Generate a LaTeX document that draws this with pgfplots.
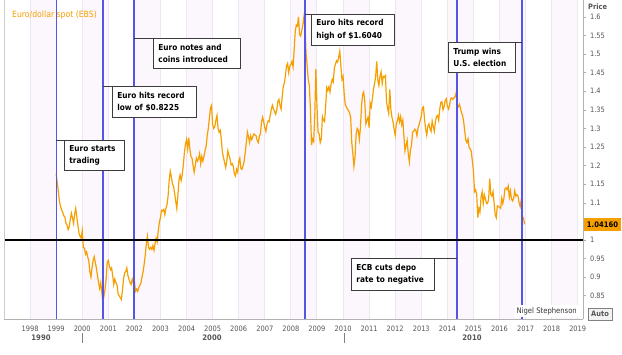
\documentclass[border=0pt]{standalone}
\usepackage{pgfplots}
\pgfplotsset{compat=1.18}
\usepackage{fontspec}
\setmainfont{DejaVu Sans Condensed}
\definecolor{eur}{RGB}{245,160,0}
\definecolor{evt}{RGB}{85,85,230}
\definecolor{band}{RGB}{252,247,252}
\definecolor{gridc}{RGB}{238,230,243}
\definecolor{tickc}{RGB}{85,85,85}
\definecolor{boxc}{RGB}{60,60,60}
\begin{document}
\begin{tikzpicture}
\useasboundingbox (0pt,0pt) rectangle (622pt,-354pt);
\fill[white] (0pt,0pt) rectangle (622pt,-354pt);
\begin{axis}[at={(4pt,-319pt)}, anchor=south west, scale only axis,
  width=579pt, height=319pt,
  xmin=1997, xmax=2019.2, ymin=0.7876, ymax=1.6452,
  axis x line*=bottom, axis y line*=right,
  axis line style={draw=gray!60, line width=0.6pt},
  xtick={1998,1999,...,2019},
  ytick={0.85,0.9,0.95,1,1.05,1.1,1.15,1.2,1.25,1.3,1.35,1.4,1.45,1.5,1.55,1.6},
  yticklabels={0.85,0.9,0.95,1,,1.1,1.15,1.2,1.25,1.3,1.35,1.4,1.45,1.5,1.55,1.6},
  x tick label style={/pgf/number format/1000 sep={}, /pgf/number format/assume math mode=true},
  y tick label style={anchor=west},
  tick label style={font=\fontsize{7.4}{8}\selectfont, text=tickc},
  xtick style={draw=none},
  ytick style={draw=gray!60, line width=0.6pt},
  tick align=outside, major tick length=3.5pt,
]
% year bands
\fill[band] (axis cs:1998,0.7876) rectangle (axis cs:1999,1.6452);
\fill[band] (axis cs:2000,0.7876) rectangle (axis cs:2001,1.6452);
\fill[band] (axis cs:2002,0.7876) rectangle (axis cs:2003,1.6452);
\fill[band] (axis cs:2004,0.7876) rectangle (axis cs:2005,1.6452);
\fill[band] (axis cs:2006,0.7876) rectangle (axis cs:2007,1.6452);
\fill[band] (axis cs:2008,0.7876) rectangle (axis cs:2009,1.6452);
\fill[band] (axis cs:2010,0.7876) rectangle (axis cs:2011,1.6452);
\fill[band] (axis cs:2012,0.7876) rectangle (axis cs:2013,1.6452);
\fill[band] (axis cs:2014,0.7876) rectangle (axis cs:2015,1.6452);
\fill[band] (axis cs:2016,0.7876) rectangle (axis cs:2017,1.6452);
\fill[band] (axis cs:2018,0.7876) rectangle (axis cs:2019,1.6452);
\pgfplotsinvokeforeach{1998,1999,...,2019}{
  \draw[gridc, line width=1pt] (axis cs:#1,0.7876) -- (axis cs:#1,1.6452);
}
% EUR/USD, half-monthly from Jan 1999
\addplot[eur, line width=1.2pt] table[row sep=\\, header=false, x expr=1999+\coordindex/24, y index=0] {
1.178\\1.155\\1.130\\1.105\\1.090\\1.082\\1.075\\1.065\\1.062\\1.045\\1.040\\1.028\\1.035\\1.055\\1.072\\1.060\\1.045\\1.070\\1.085\\1.062\\1.040\\1.018\\1.010\\1.005\\
1.025\\0.980\\0.978\\0.962\\0.968\\0.955\\0.945\\0.915\\0.900\\0.925\\0.945\\0.955\\0.940\\0.925\\0.905\\0.885\\0.870\\0.885\\0.860\\0.832\\0.850\\0.868\\0.895\\0.940\\
0.945\\0.930\\0.920\\0.925\\0.905\\0.880\\0.895\\0.885\\0.880\\0.855\\0.850\\0.845\\0.840\\0.865\\0.895\\0.912\\0.915\\0.925\\0.905\\0.895\\0.885\\0.880\\0.895\\0.885\\
0.890\\0.862\\0.868\\0.862\\0.872\\0.878\\0.885\\0.900\\0.915\\0.935\\0.960\\0.990\\1.010\\0.980\\0.975\\0.980\\0.975\\0.985\\0.972\\0.990\\1.005\\0.995\\1.025\\1.048\\
1.060\\1.080\\1.078\\1.082\\1.068\\1.085\\1.095\\1.118\\1.160\\1.185\\1.170\\1.150\\1.145\\1.125\\1.105\\1.085\\1.120\\1.160\\1.175\\1.160\\1.175\\1.200\\1.235\\1.258\\
1.270\\1.245\\1.275\\1.245\\1.225\\1.220\\1.200\\1.182\\1.200\\1.220\\1.212\\1.218\\1.232\\1.205\\1.225\\1.212\\1.225\\1.240\\1.252\\1.280\\1.300\\1.328\\1.355\\1.362\\
1.310\\1.300\\1.305\\1.322\\1.335\\1.300\\1.290\\1.295\\1.270\\1.235\\1.222\\1.208\\1.195\\1.212\\1.240\\1.228\\1.218\\1.202\\1.205\\1.198\\1.178\\1.172\\1.190\\1.182\\
1.210\\1.220\\1.192\\1.190\\1.200\\1.212\\1.235\\1.262\\1.290\\1.278\\1.262\\1.280\\1.270\\1.278\\1.285\\1.282\\1.280\\1.268\\1.262\\1.280\\1.285\\1.318\\1.330\\1.318\\
1.302\\1.292\\1.310\\1.320\\1.318\\1.335\\1.352\\1.362\\1.352\\1.345\\1.338\\1.350\\1.372\\1.378\\1.362\\1.352\\1.385\\1.412\\1.422\\1.442\\1.468\\1.475\\1.450\\1.468\\
1.472\\1.480\\1.465\\1.510\\1.560\\1.578\\1.575\\1.600\\1.552\\1.548\\1.562\\1.578\\1.600\\1.570\\1.500\\1.468\\1.430\\1.415\\1.350\\1.255\\1.272\\1.265\\1.335\\1.460\\
1.360\\1.290\\1.285\\1.262\\1.272\\1.332\\1.322\\1.318\\1.360\\1.410\\1.402\\1.412\\1.398\\1.420\\1.432\\1.425\\1.462\\1.472\\1.482\\1.478\\1.492\\1.508\\1.468\\1.432\\
1.440\\1.395\\1.365\\1.358\\1.352\\1.348\\1.342\\1.330\\1.262\\1.232\\1.198\\1.222\\1.282\\1.300\\1.295\\1.270\\1.302\\1.360\\1.392\\1.398\\1.372\\1.312\\1.322\\1.330\\
1.302\\1.368\\1.358\\1.380\\1.405\\1.420\\1.440\\1.480\\1.430\\1.415\\1.440\\1.452\\1.420\\1.440\\1.438\\1.442\\1.372\\1.355\\1.340\\1.405\\1.352\\1.330\\1.318\\1.298\\
1.282\\1.312\\1.320\\1.335\\1.318\\1.332\\1.310\\1.322\\1.280\\1.240\\1.255\\1.268\\1.232\\1.210\\1.242\\1.255\\1.290\\1.292\\1.298\\1.295\\1.280\\1.300\\1.310\\1.322\\
1.332\\1.355\\1.358\\1.325\\1.298\\1.282\\1.305\\1.312\\1.300\\1.292\\1.320\\1.305\\1.292\\1.318\\1.332\\1.335\\1.322\\1.352\\1.370\\1.372\\1.350\\1.358\\1.375\\1.380\\
1.360\\1.352\\1.362\\1.380\\1.382\\1.378\\1.382\\1.385\\1.395\\1.362\\1.358\\1.365\\1.355\\1.342\\1.335\\1.318\\1.292\\1.268\\1.262\\1.272\\1.248\\1.245\\1.238\\1.212\\
1.185\\1.130\\1.135\\1.122\\1.060\\1.085\\1.075\\1.115\\1.130\\1.098\\1.122\\1.110\\1.098\\1.098\\1.112\\1.165\\1.122\\1.118\\1.130\\1.100\\1.068\\1.060\\1.092\\1.090\\
1.088\\1.085\\1.112\\1.098\\1.112\\1.138\\1.140\\1.135\\1.145\\1.115\\1.132\\1.110\\1.105\\1.112\\1.132\\1.118\\1.122\\1.118\\1.100\\1.090\\1.108\\1.062\\1.060\\1.042\\
};
% event lines
\addplot[evt, line width=1.3pt] coordinates {(1999.01,0.7876) (1999.01,1.6452)};
\addplot[evt, line width=1.3pt] coordinates {(2000.80,0.7876) (2000.80,1.6452)};
\addplot[evt, line width=1.3pt] coordinates {(2001.99,0.7876) (2001.99,1.6452)};
\addplot[evt, line width=1.3pt] coordinates {(2008.54,0.7876) (2008.54,1.6452)};
\addplot[evt, line width=1.3pt] coordinates {(2014.37,0.7876) (2014.37,1.6452)};
\addplot[evt, line width=1.3pt] coordinates {(2016.86,0.7876) (2016.86,1.6452)};
% parity line
\addplot[black, line width=1.4pt] coordinates {(1997,1) (2019.2,1)};
\end{axis}
\begin{scope}[x=1pt,y=1pt]
% left frame edge
\draw[gray!40, line width=0.5pt] (4,0) -- (4,-319);
% title
\node[anchor=west, text=eur, font=\fontsize{8.6}{10}\selectfont, inner sep=0] at (12,-15) {Euro/dollar spot (EBS)};
% annotation boxes
\tikzset{ann/.style={draw=boxc, line width=0.8pt, fill=white, anchor=north west, align=left,
  font=\bfseries\fontsize{8.2}{12.5}\selectfont, inner xsep=5pt, inner ysep=0pt}}
\draw[boxc, line width=0.8pt] (56,-140) -- (64,-140);
\node[ann, minimum width=60, minimum height=30, text width=50] at (64,-140) {Euro starts\\trading};
\draw[boxc, line width=0.8pt] (103,-86) -- (112,-86);
\node[ann, minimum width=84, minimum height=31, text width=74] at (112,-86) {Euro hits record\\low of \$0.8225};
\draw[boxc, line width=0.8pt] (134,-38) -- (153,-38);
\node[ann, minimum width=87, minimum height=30, text width=77] at (153,-38) {Euro notes and\\coins introduced};
\draw[boxc, line width=0.8pt] (305,-14) -- (311,-14);
\node[ann, minimum width=83, minimum height=31, text width=73] at (311,-14) {Euro hits record\\high of \$1.6040};
\draw[boxc, line width=0.8pt] (515,-42) -- (522,-42);
\node[ann, minimum width=67, minimum height=30, text width=57] at (448,-42) {Trump wins\\U.S. election};
\draw[boxc, line width=0.8pt] (434,-258) -- (457,-258);
\node[ann, minimum width=83, minimum height=32, text width=73] at (351,-258) {ECB cuts depo\\rate to negative};
% right side labels
\node[anchor=west, text=tickc, font=\bfseries\fontsize{7.4}{8}\selectfont, inner sep=0] at (588,-7) {Price};
\node[fill=eur, minimum width=37, minimum height=13, inner sep=0, font=\bfseries\fontsize{7.6}{8}\selectfont] at (602.5,-224.5) {1.04160};
\node[draw=gray, line width=0.6pt, fill=gray!10, minimum width=24, minimum height=12, inner sep=0, text=tickc, font=\bfseries\fontsize{7.4}{8}\selectfont] at (600,-314) {Auto};
\node[anchor=east, fill=white, inner xsep=2pt, inner ysep=2pt, font=\fontsize{7.6}{8}\selectfont, text=black!80] at (579,-311) {Nigel Stephenson};
% decade row
\node[text=tickc, font=\bfseries\fontsize{7.6}{8}\selectfont] at (41,-338) {1990};
\node[text=tickc, font=\bfseries\fontsize{7.6}{8}\selectfont] at (212,-338) {2000};
\node[text=tickc, font=\bfseries\fontsize{7.6}{8}\selectfont] at (472,-338) {2010};
\draw[gray, line width=0.8pt] (82,-333) -- (82,-343);
\draw[gray, line width=0.8pt] (344,-333) -- (344,-343);
\end{scope}
\end{tikzpicture}
\end{document}
